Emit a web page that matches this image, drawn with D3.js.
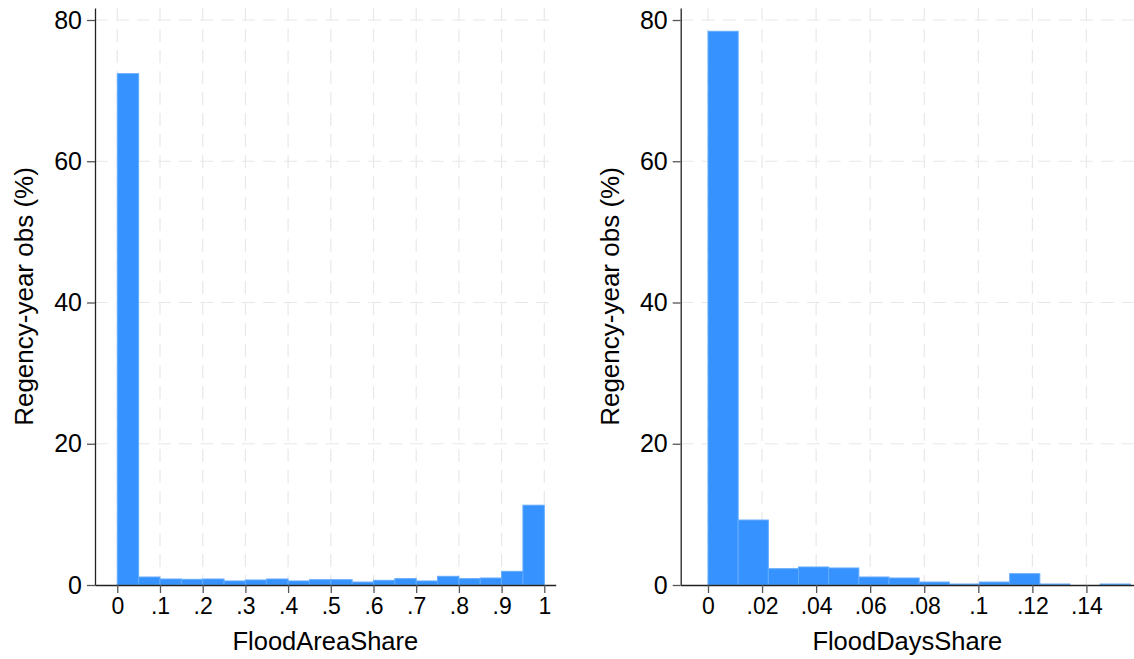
<!DOCTYPE html>
<html>
<head>
<meta charset="utf-8">
<script src="https://cdn.jsdelivr.net/npm/d3@7"></script>
<style>
  html, body { margin: 0; padding: 0; background: #ffffff; }
  svg { display: block; }
  .tick text { font-family: "Liberation Sans", Arial, Helvetica, sans-serif; fill: #000; }
  .axis-title { font-family: "Liberation Sans", Arial, Helvetica, sans-serif; fill: #000; }
</style>
</head>
<body>
<svg id="chart" width="1134" height="659"></svg>
<script>
// Percent of regency-year observations per histogram bin
const areaBinWidth = 0.05;
const areaPercent = [72.4, 1.13, 0.85, 0.8, 0.85, 0.57, 0.71, 0.85, 0.57, 0.75,
                     0.75, 0.42, 0.66, 0.9, 0.57, 1.23, 0.9, 0.99, 1.93, 11.3];

const daysBinWidth = 0.01116;
const daysPercent = [78.4, 9.2, 2.31, 2.55, 2.41, 1.13, 0.99, 0.42, 0.14, 0.42,
                     1.6, 0.14, 0, 0.14];

// Axis ticks
const yTicks = [0, 20, 40, 60, 80];
const areaTicks = [0, 0.1, 0.2, 0.3, 0.4, 0.5, 0.6, 0.7, 0.8, 0.9, 1];
const daysTicks = [0, 0.02, 0.04, 0.06, 0.08, 0.1, 0.12, 0.14];

const svg = d3.select("#chart");

const fmtStata = v => {
  if (v === 0) return "0";
  if (v === 1) return "1";
  return d3.format("")(+v.toFixed(2)).replace(/^0\./, ".");
};

function drawPanel(opts) {
  const { left, right, top, bottom, xDomain, yMax, binWidth, values, xTicks, xTitle } = opts;

  const x = d3.scaleLinear().domain(xDomain).range([left, right]);
  const y = d3.scaleLinear().domain([0, yMax]).range([bottom, top]);

  const g = svg.append("g");

  // dashed grid
  const grid = g.append("g")
    .attr("stroke", "#e8e8e8")
    .attr("stroke-width", 1.2)
    .attr("stroke-dasharray", "13,8");
  grid.selectAll("line.v").data(xTicks).join("line")
    .attr("class", "v")
    .attr("x1", d => x(d)).attr("x2", d => x(d))
    .attr("y1", top).attr("y2", bottom);
  grid.selectAll("line.h").data(yTicks.filter(d => d > 0)).join("line")
    .attr("class", "h")
    .attr("x1", left).attr("x2", right)
    .attr("y1", d => y(d)).attr("y2", d => y(d));

  // histogram bars
  g.append("g").selectAll("rect").data(values).join("rect")
    .attr("x", (d, i) => x(i * binWidth))
    .attr("width", (d, i) => x((i + 1) * binWidth) - x(i * binWidth))
    .attr("y", d => y(d))
    .attr("height", d => y(0) - y(d))
    .attr("fill", "#3592ff")
    .attr("stroke", "#62abff")
    .attr("stroke-width", 1);

  // axes
  const xAxis = g.append("g")
    .attr("transform", `translate(0,${bottom})`)
    .call(d3.axisBottom(x).tickValues(xTicks).tickFormat(fmtStata)
      .tickSize(8).tickSizeOuter(0).tickPadding(5));
  xAxis.selectAll(".tick text").style("font-size", "23px");

  const yAxis = g.append("g")
    .attr("transform", `translate(${left},0)`)
    .call(d3.axisLeft(y).tickValues(yTicks).tickFormat(d3.format("d"))
      .tickSize(8).tickSizeOuter(0).tickPadding(5));
  yAxis.selectAll(".tick text").style("font-size", "25px");

  [xAxis, yAxis].forEach(a => {
    a.select(".domain").attr("stroke", "#222").attr("stroke-width", 1.3);
    a.selectAll(".tick line").attr("stroke", "#555").attr("stroke-width", 1.3);
  });

  // axis titles
  g.append("text").attr("class", "axis-title")
    .attr("x", (left + right) / 2).attr("y", 650)
    .attr("text-anchor", "middle")
    .style("font-size", "25.5px")
    .text(xTitle);

  g.append("text").attr("class", "axis-title")
    .attr("transform", `translate(${left - 62},${(top + bottom) / 2}) rotate(-90)`)
    .attr("text-anchor", "middle")
    .style("font-size", "26px")
    .text("Regency-year obs (%)");
}

drawPanel({
  left: 95, right: 555.7, top: 8, bottom: 585,
  xDomain: [-0.0522, 1.0267], yMax: 81.7,
  binWidth: areaBinWidth, values: areaPercent, xTicks: areaTicks,
  xTitle: "FloodAreaShare"
});

drawPanel({
  left: 680.7, right: 1134, top: 8, bottom: 585,
  xDomain: [-0.0101, 0.1576], yMax: 81.7,
  binWidth: daysBinWidth, values: daysPercent, xTicks: daysTicks,
  xTitle: "FloodDaysShare"
});
</script>
</body>
</html>
